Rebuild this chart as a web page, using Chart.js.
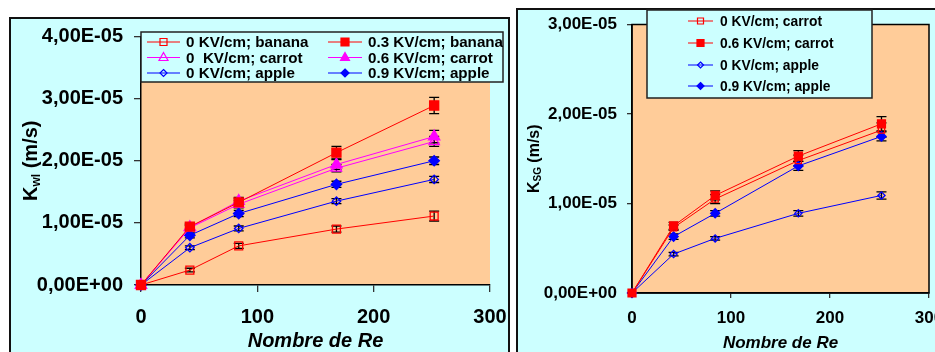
<!DOCTYPE html>
<html lang="fr">
<head>
<meta charset="utf-8">
<title>Kwl / Ksg vs Re</title>
<script src="https://cdn.jsdelivr.net/npm/chart.js@4.4.1/dist/chart.umd.min.js"></script>
<style>
  html, body { margin: 0; padding: 0; width: 935px; height: 352px; overflow: hidden; background: #fff; }
  .frame { position: absolute; box-sizing: border-box; background: #ccffff; border: 2px solid #111; }
  #leftFrame { left: 9px; top: 17px; width: 501px; height: 360px; }
  #rightFrame { left: 516px; top: 8px; width: 440px; height: 370px; }
  canvas { position: absolute; }
  #kwlChart { left: 10px; top: 18px; }
  #ksgChart { left: 517px; top: 9px; }
</style>
</head>
<body>
<div class="frame" id="leftFrame"></div>
<div class="frame" id="rightFrame"></div>
<canvas id="kwlChart" width="499" height="334"></canvas>
<canvas id="ksgChart" width="418" height="343"></canvas>
<script>
const $ = (id) => document.getElementById(id);
const FONT = "'Liberation Sans', Arial, Helvetica, sans-serif";

// Reynolds numbers (x axis) and tick values
const reValues = [0, 42, 84, 168, 252];
const xTicks = [0, 100, 200, 300];

// Left chart: Kwl (m/s)
const kwlTicks = [0, 1e-5, 2e-5, 3e-5, 4e-5];
const kwlBanana0 = [0, 2.4e-6, 6.3e-6, 9.0e-6, 1.11e-5];
const kwlBanana0Err = [0, 3e-7, 4e-7, 5e-7, 8e-7];
const kwlBanana03 = [0, 9.4e-6, 1.33e-5, 2.13e-5, 2.89e-5];
const kwlBanana03Err = [0, 5e-7, 6e-7, 1.0e-6, 1.3e-6];
const kwlCarrot0 = [0, 9.2e-6, 1.30e-5, 1.88e-5, 2.31e-5];
const kwlCarrot0Err = [0, 4e-7, 6e-7, 6e-7, 8e-7];
const kwlCarrot06 = [0, 9.3e-6, 1.35e-5, 1.94e-5, 2.39e-5];
const kwlCarrot06Err = [0, 4e-7, 6e-7, 8e-7, 1.0e-6];
const kwlApple0 = [0, 6.0e-6, 9.1e-6, 1.35e-5, 1.70e-5];
const kwlApple0Err = [0, 3e-7, 4e-7, 4e-7, 5e-7];
const kwlApple09 = [0, 8.0e-6, 1.15e-5, 1.62e-5, 2.00e-5];
const kwlApple09Err = [0, 4e-7, 5e-7, 5e-7, 6e-7];

// Right chart: Ksg (m/s)
const ksgTicks = [0, 1e-5, 2e-5, 3e-5];
const ksgCarrot0 = [0, 7.3e-6, 1.05e-5, 1.48e-5, 1.82e-5];
const ksgCarrot0Err = [0, 3e-7, 5e-7, 6e-7, 8e-7];
const ksgCarrot06 = [0, 7.5e-6, 1.09e-5, 1.53e-5, 1.89e-5];
const ksgCarrot06Err = [0, 4e-7, 5e-7, 6e-7, 8e-7];
const ksgApple0 = [0, 4.35e-6, 6.1e-6, 8.9e-6, 1.09e-5];
const ksgApple0Err = [0, 2e-7, 2e-7, 3e-7, 4e-7];
const ksgApple09 = [0, 6.3e-6, 8.9e-6, 1.42e-5, 1.75e-5];
const ksgApple09Err = [0, 3e-7, 3e-7, 5e-7, 5e-7];

const RED = '#ff0000', MAGENTA = '#ff00ff', BLUE = '#0000ff';

// "4,00E-05" style labels
function sciComma(v) {
    if (Math.abs(v) < 1e-15) return '0,00E+00';
    let [m, e] = v.toExponential(2).split('e');
    const sign = e[0] === '-' ? '-' : '+';
    e = String(Math.abs(parseInt(e, 10))).padStart(2, '0');
    return m.replace('.', ',') + 'E' + sign + e;
}

function drawMarker(ctx, style, x, y, r, color, filled) {
    ctx.beginPath();
    if (style === 'rect') {
        ctx.rect(x - r, y - r, 2 * r, 2 * r);
    } else if (style === 'triangle') {
        ctx.moveTo(x, y - r);
        ctx.lineTo(x + r * 0.9, y + r * 0.6);
        ctx.lineTo(x - r * 0.9, y + r * 0.6);
        ctx.closePath();
    } else {
        ctx.moveTo(x, y - r);
        ctx.lineTo(x + r, y);
        ctx.lineTo(x, y + r);
        ctx.lineTo(x - r, y);
        ctx.closePath();
    }
    ctx.lineWidth = 1.2;
    ctx.strokeStyle = color;
    if (filled) { ctx.fillStyle = color; ctx.fill(); }
    ctx.stroke();
}

// peach plot area (+ optional frame)
const plotBgPlugin = {
    id: 'plotBg',
    beforeDraw(chart, args, opts) {
        const { ctx, chartArea: a } = chart;
        ctx.save();
        ctx.fillStyle = '#ffcc99';
        ctx.fillRect(a.left, a.top, a.right - a.left, a.bottom - a.top);
        if (opts.frame) {
            ctx.strokeStyle = '#000';
            ctx.lineWidth = 1.5;
            ctx.strokeRect(a.left, a.top, a.right - a.left, a.bottom - a.top);
        }
        ctx.restore();
    }
};

// black error bars, drawn under the markers
const errorBarPlugin = {
    id: 'errorBars',
    beforeDatasetsDraw(chart, args, opts) {
        const ctx = chart.ctx;
        const yScale = chart.scales.y;
        const cw = opts.capHalf || 5;
        ctx.save();
        ctx.strokeStyle = '#000';
        ctx.lineWidth = 1.3;
        chart.data.datasets.forEach((ds, i) => {
            const meta = chart.getDatasetMeta(i);
            (ds.errors || []).forEach((err, j) => {
                if (!err) return;
                const px = meta.data[j].x;
                const v = ds.data[j].y;
                const top = yScale.getPixelForValue(v + err);
                const bot = yScale.getPixelForValue(v - err);
                ctx.beginPath();
                ctx.moveTo(px, top); ctx.lineTo(px, bot);
                ctx.moveTo(px - cw, top); ctx.lineTo(px + cw, top);
                ctx.moveTo(px - cw, bot); ctx.lineTo(px + cw, bot);
                ctx.stroke();
            });
        });
        ctx.restore();
    }
};

// boxed legend placed over the plot
const boxLegendPlugin = {
    id: 'boxLegend',
    afterDraw(chart, args, opts) {
        const ctx = chart.ctx;
        const [bx, by, bw, bh] = opts.box;
        ctx.save();
        ctx.fillStyle = '#ccffff';
        ctx.fillRect(bx, by, bw, bh);
        ctx.strokeStyle = '#222';
        ctx.lineWidth = 1.5;
        ctx.strokeRect(bx, by, bw, bh);
        ctx.font = `bold ${opts.fontSize}px ${FONT}`;
        ctx.textBaseline = 'middle';
        chart.data.datasets.forEach((ds, i) => {
            const [x0, x1, y, tx] = opts.slots[i];
            ctx.beginPath();
            ctx.strokeStyle = ds.borderColor;
            ctx.lineWidth = 1;
            ctx.moveTo(x0, y); ctx.lineTo(x1, y);
            ctx.stroke();
            drawMarker(ctx, ds.legendStyle, (x0 + x1) / 2, y, ds.legendRadius, ds.borderColor, ds.filled);
            ctx.fillStyle = '#000';
            ctx.fillText(ds.label, tx, y + 1);
        });
        ctx.restore();
    }
};

// axis titles, y title with subscript
const axisTitlePlugin = {
    id: 'axisTitles',
    afterDraw(chart, args, opts) {
        const { ctx, chartArea: a } = chart;
        ctx.save();
        ctx.fillStyle = '#000';
        ctx.textBaseline = 'alphabetic';
        // x title
        ctx.font = `italic bold ${opts.xSize}px ${FONT}`;
        ctx.textAlign = 'center';
        ctx.fillText('Nombre de Re', (a.left + a.right) / 2, a.bottom + opts.xOffset);
        // y title (rotated)
        const parts = opts.yParts;
        let total = 0;
        parts.forEach(p => {
            ctx.font = `bold ${p.size}px ${FONT}`;
            p.w = ctx.measureText(p.text).width;
            total += p.w;
        });
        ctx.translate(opts.yX, (a.top + a.bottom) / 2);
        ctx.rotate(-Math.PI / 2);
        ctx.textAlign = 'left';
        let x = -total / 2;
        parts.forEach(p => {
            ctx.font = `bold ${p.size}px ${FONT}`;
            ctx.fillText(p.text, x, opts.yBase + (p.dy || 0));
            x += p.w;
        });
        ctx.restore();
    }
};

function series(label, values, errors, color, style, filled, radius, legendStyle, legendRadius) {
    return {
        label, errors, filled, legendStyle, legendRadius,
        data: reValues.map((x, i) => ({ x, y: values[i] })),
        showLine: true,
        clip: false,
        borderColor: color,
        borderWidth: 1,
        pointStyle: style,
        pointRadius: radius,
        pointHoverRadius: radius,
        pointBorderColor: color,
        pointBorderWidth: 1.3,
        pointBackgroundColor: filled ? color : 'rgba(0,0,0,0)',
        backgroundColor: filled ? color : 'rgba(0,0,0,0)'
    };
}

// no label overflow padding: the plot box is fixed by hand
function noPadding(s) {
    s.paddingLeft = 0; s.paddingRight = 0; s.paddingTop = 0; s.paddingBottom = 0;
}

function axis(tickValues, min, max, fontSize, tickLen, padding, fit) {
    return {
        type: 'linear', min, max,
        afterBuildTicks: (scale) => { scale.ticks = tickValues.map(v => ({ value: v })); },
        afterFit: (s) => { fit(s); noPadding(s); },
        grid: { drawOnChartArea: false, drawTicks: true, tickLength: tickLen, color: '#333', lineWidth: 1.3 },
        border: { display: true, color: '#000', width: 1.5 },
        ticks: {
            padding,
            color: '#000',
            font: { family: FONT, size: fontSize, weight: 'bold' },
            callback: (v) => v
        }
    };
}

function makeChart(canvasId, cfg) {
    const xAxis = axis(xTicks, 0, 300, cfg.tickFont, cfg.tickLen, cfg.xPad, (s) => { s.height = cfg.xHeight; });
    const yAxis = axis(cfg.yTicks, 0, cfg.yMax, cfg.tickFont, cfg.tickLen, cfg.yPad, (s) => { s.width = cfg.yWidth; });
    yAxis.ticks.callback = (v) => sciComma(v);
    return new Chart($(canvasId), {
        type: 'scatter',
        data: { datasets: cfg.datasets },
        options: {
            responsive: false,
            animation: false,
            events: [],
            layout: { autoPadding: false, padding: cfg.padding },
            scales: { x: xAxis, y: yAxis },
            plugins: {
                legend: { display: false },
                tooltip: { enabled: false },
                plotBg: { frame: cfg.frame },
                errorBars: { capHalf: cfg.capHalf },
                boxLegend: cfg.legend,
                axisTitles: cfg.titles
            }
        },
        plugins: [plotBgPlugin, errorBarPlugin, boxLegendPlugin, axisTitlePlugin]
    });
}

// left: Kwl
makeChart('kwlChart', {
    yTicks: kwlTicks, yMax: 4e-5,
    tickFont: 20, tickLen: 7, xPad: 13, yPad: 11,
    yWidth: 131, xHeight: 67,
    padding: { left: 0, top: 18.5, right: 19, bottom: 0 },
    frame: false, capHalf: 5,
    datasets: [
        series('0 KV/cm; banana', kwlBanana0, kwlBanana0Err, RED, 'rect', false, 5.6, 'rect', 3.5),
        series('0.3 KV/cm; banana', kwlBanana03, kwlBanana03Err, RED, 'rect', true, 6.4, 'rect', 4),
        series('0  KV/cm; carrot', kwlCarrot0, kwlCarrot0Err, MAGENTA, 'triangle', false, 6, 'triangle', 5),
        series('0.6 KV/cm; carrot', kwlCarrot06, kwlCarrot06Err, MAGENTA, 'triangle', true, 6.5, 'triangle', 5),
        series('0 KV/cm; apple', kwlApple0, kwlApple0Err, BLUE, 'rectRot', false, 4.2, 'rectRot', 3.5),
        series('0.9 KV/cm; apple', kwlApple09, kwlApple09Err, BLUE, 'rectRot', true, 5.2, 'rectRot', 4)
    ],
    legend: {
        box: [131, 14, 362, 50], fontSize: 15.2,
        slots: [
            [137, 170, 24, 176], [318, 352, 24, 358],
            [137, 170, 39.5, 176], [318, 352, 39.5, 358],
            [137, 170, 55, 176], [318, 352, 55, 358]
        ]
    },
    titles: {
        xSize: 20, xOffset: 62,
        yX: 27, yBase: 0,
        yParts: [{ text: 'K', size: 20 }, { text: 'wl', size: 12, dy: 3 }, { text: ' (m/s)', size: 20 }]
    }
});

// right: Ksg
makeChart('ksgChart', {
    yTicks: ksgTicks, yMax: 3e-5,
    tickFont: 17, tickLen: 5, xPad: 10, yPad: 10,
    yWidth: 115, xHeight: 59,
    padding: { left: 0, top: 15.5, right: 6, bottom: 0 },
    frame: true, capHalf: 5,
    datasets: [
        series('0 KV/cm; carrot', ksgCarrot0, ksgCarrot0Err, RED, 'rect', false, 4.4, 'rect', 3),
        series('0.6 KV/cm; carrot', ksgCarrot06, ksgCarrot06Err, RED, 'rect', true, 5.6, 'rect', 3.5),
        series('0 KV/cm; apple', ksgApple0, ksgApple0Err, BLUE, 'rectRot', false, 3.6, 'rectRot', 3),
        series('0.9 KV/cm; apple', ksgApple09, ksgApple09Err, BLUE, 'rectRot', true, 4.6, 'rectRot', 3.5)
    ],
    legend: {
        box: [130, 1, 225, 88], fontSize: 13.8,
        slots: [[171, 196, 12, 203], [171, 196, 34, 203], [171, 196, 56, 203], [171, 196, 77, 203]]
    },
    titles: {
        xSize: 17, xOffset: 55,
        yX: 22, yBase: 0,
        yParts: [{ text: 'K', size: 16 }, { text: 'SG', size: 10, dy: 2 }, { text: ' (m/s)', size: 16 }]
    }
});
</script>
</body>
</html>
